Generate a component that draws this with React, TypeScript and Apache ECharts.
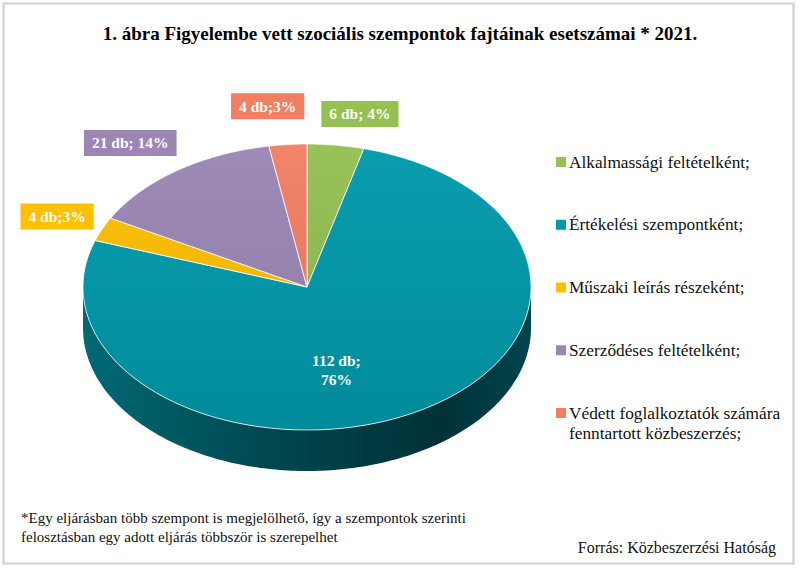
import React, { useEffect, useRef } from "react";
import * as echarts from "echarts";

const TITLE = "1. ábra Figyelembe vett szociális szempontok fajtáinak esetszámai * 2021.";
const CATEGORIES = [
  "Alkalmassági feltételként;",
  "Értékelési szempontként;",
  "Műszaki leírás részeként;",
  "Szerződéses feltételként;",
  "Védett foglalkoztatók számára\nfenntartott közbeszerzés;",
];
const VALUES = [6, 112, 4, 21, 4];
const LABEL_TEXTS = ["6 db; 4%", "112 db;\n76%", "4 db;3%", "21 db; 14%", "4 db;3%"];
const COLORS = ["#93C152", "#009AAB", "#FFC000", "#9B86B5", "#F07F64"];
const FOOTNOTE = [
  "*Egy eljárásban több szempont is megjelölhető, így a szempontok szerinti",
  "felosztásban egy adott eljárás többször is szerepelhet",
];
const SOURCE = "Forrás: Közbeszerzési Hatóság";

// layout constants
const FONT = "'Liberation Serif', 'Times New Roman', serif";
const CX = 307;
const CY = 287;
const RX = 224;
const RY = 143;
const DEPTH = 41;
const LABEL_RADIUS = [1.22, 0.6, 1.22, 1.22, 1.22];
const LABEL_NUDGE = [
  [18, 0],
  [-34, 7],
  [0, 0],
  [-18, -2],
  [-16, -7],
];
const LEGEND_X = 556;
const LEGEND_Y0 = 162;
const LEGEND_STEP = 62.75;

function shade(hex: string, f: number): string {
  const n = parseInt(hex.slice(1), 16);
  let r = (n >> 16) & 255,
    g = (n >> 8) & 255,
    b = n & 255;
  if (f >= 1) {
    const k = f - 1;
    r = r + (255 - r) * k;
    g = g + (255 - g) * k;
    b = b + (255 - b) * k;
  } else {
    r *= f;
    g *= f;
    b *= f;
  }
  return `rgb(${Math.round(r)},${Math.round(g)},${Math.round(b)})`;
}

const TOTAL = VALUES.reduce((a, b) => a + b, 0);
const CUM: number[] = [];
{
  let acc = 0;
  VALUES.forEach((v) => {
    CUM.push(acc);
    acc += v;
  });
}

function ang(c: number) {
  return -Math.PI / 2 + (2 * Math.PI * c) / TOTAL;
}
function pt(t: number, k = 1, dy = 0): number[] {
  return [CX + RX * k * Math.cos(t), CY + RY * k * Math.sin(t) + dy];
}
function arc(a: number, b: number, dy = 0): number[][] {
  const n = Math.max(2, Math.ceil((b - a) / (Math.PI / 180)));
  const pts: number[][] = [];
  for (let j = 0; j <= n; j++) pts.push(pt(a + ((b - a) * j) / n, 1, dy));
  return pts;
}

function buildOption(): any {
  const legendGraphics: any[] = [];
  CATEGORIES.forEach((name, i) => {
    const y = LEGEND_Y0 + i * LEGEND_STEP;
    legendGraphics.push({
      type: "rect",
      shape: { x: LEGEND_X, y: y - 5, width: 10, height: 10 },
      style: { fill: COLORS[i] },
    });
    legendGraphics.push({
      type: "text",
      style: {
        text: name,
        x: LEGEND_X + 13,
        y: y - 10,
        verticalAlign: "top",
        align: "left",
        font: `17.3px ${FONT}`,
        lineHeight: 20,
        fill: "#111",
      },
    });
  });

  return {
    animation: false,
    backgroundColor: "#ffffff",
    title: {
      text: TITLE,
      left: "center",
      top: 19,
      textStyle: { fontFamily: FONT, fontWeight: "bold", fontSize: 19, color: "#000" },
    },
    graphic: [
      {
        type: "rect",
        shape: { x: 3.5, y: 3.5, width: 790, height: 560 },
        style: { fill: "none", stroke: "#d6d6d6", lineWidth: 2.5 },
      },
      ...legendGraphics,
      {
        type: "text",
        style: {
          text: FOOTNOTE.join("\n"),
          x: 21,
          y: 508,
          verticalAlign: "top",
          font: `15px ${FONT}`,
          lineHeight: 19,
          fill: "#111",
        },
      },
      {
        type: "text",
        style: {
          text: SOURCE,
          x: 776,
          y: 547,
          align: "right",
          verticalAlign: "middle",
          font: `16px ${FONT}`,
          fill: "#111",
        },
      },
    ],
    series: [
      {
        type: "custom",
        coordinateSystem: "none",
        silent: true,
        data: VALUES,
        renderItem: (params: any, api: any) => {
          const i = params.dataIndex;
          const v = api.value(0);
          const a = ang(CUM[i]);
          const b = ang(CUM[i] + v);
          const color = COLORS[i];
          const children: any[] = [];
          const wa = Math.max(a, 0);
          const wb = Math.min(b, Math.PI);
          if (wb > wa) {
            const top = arc(wa, wb);
            const bottom = arc(wa, wb, DEPTH).reverse();
            children.push({
              type: "polygon",
              shape: { points: top.concat(bottom) },
              style: {
                fill: new echarts.graphic.LinearGradient(
                  CX - RX,
                  0,
                  CX + RX,
                  0,
                  [
                    { offset: 0, color: shade(color, 0.68) },
                    { offset: 0.45, color: shade(color, 0.45) },
                    { offset: 0.8, color: shade(color, 0.32) },
                    { offset: 1, color: shade(color, 0.45) },
                  ],
                  true
                ),
              },
            });
          }
          children.push({
            type: "polygon",
            shape: { points: [[CX, CY]].concat(arc(a, b)) },
            style: {
              fill: new echarts.graphic.LinearGradient(
                0,
                CY - RY,
                0,
                CY + RY,
                [
                  { offset: 0, color: shade(color, 1.04) },
                  { offset: 1, color: shade(color, 0.9) },
                ],
                true
              ),
              stroke: "rgba(255,255,255,0.75)",
              lineWidth: 1,
              lineJoin: "round",
            },
          });
          const mid = (a + b) / 2;
          const p = pt(mid, LABEL_RADIUS[i]);
          const inside = LABEL_RADIUS[i] < 1;
          children.push({
            type: "text",
            z2: 10,
            style: {
              text: LABEL_TEXTS[i],
              x: p[0] + LABEL_NUDGE[i][0],
              y: p[1] + LABEL_NUDGE[i][1],
              align: "center",
              verticalAlign: "middle",
              font: `bold 15.5px ${FONT}`,
              lineHeight: 19,
              fill: "#ffffff",
              backgroundColor: inside ? undefined : color,
              padding: inside ? 0 : [4, 8, 3, 8],
            },
          });
          return { type: "group", children };
        },
      },
    ],
  };
}

export default function App() {
  const ref = useRef<HTMLDivElement>(null);
  useEffect(() => {
    const el = ref.current!;
    const chart = echarts.init(el, null, { renderer: "svg" });
    chart.setOption(buildOption());
    return () => chart.dispose();
  }, []);
  return (
    <div
      ref={ref}
      style={{ position: "absolute", left: 0, top: 0, width: 800, height: 568, background: "#fff" }}
    />
  );
}
